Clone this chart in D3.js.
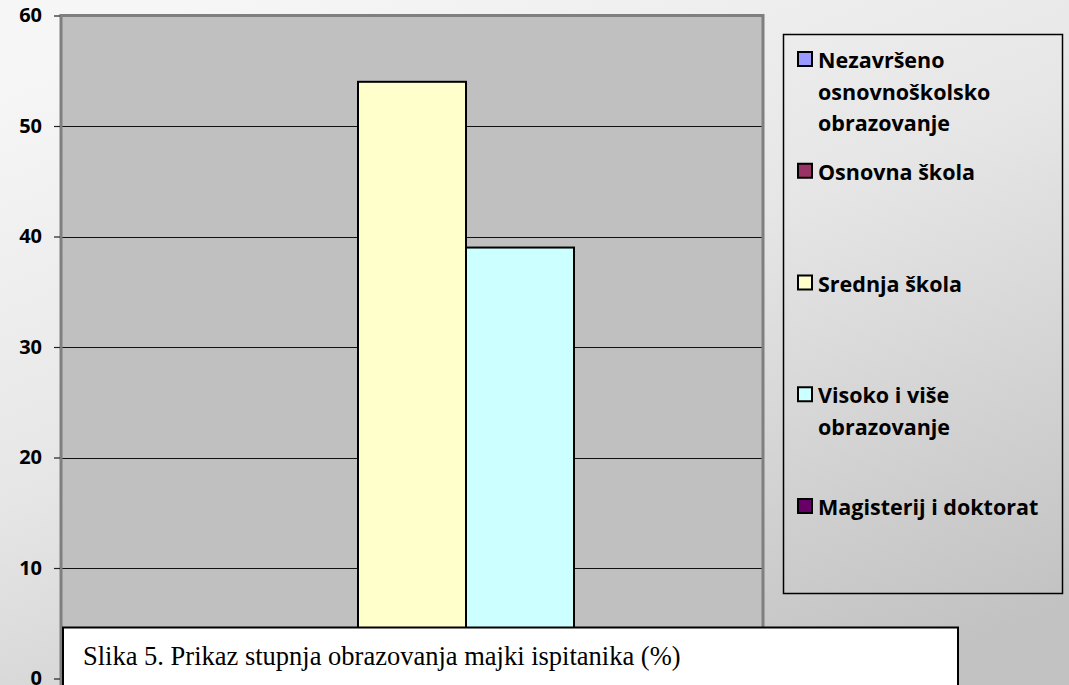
<!DOCTYPE html>
<html>
<head>
<meta charset="utf-8">
<script src="https://cdn.jsdelivr.net/npm/d3@7"></script>
<style>
  body { margin: 0; background: #ddd; }
  svg { display: block; }
  .tick text { font-family: "Open Sans", sans-serif; font-weight: bold; font-size: 20px; fill: #000; }
  .legendText { font-family: "Open Sans", sans-serif; font-weight: bold; font-size: 21.5px; fill: #000; }
  .caption { font-family: "Liberation Serif", "Times New Roman", serif; font-size: 26.5px; fill: #000; }
</style>
</head>
<body>
<div id="chart"></div>
<script>
// data
var categories = ["Majke"];
var seriesNames = [
    ["Nezavršeno", "osnovnoškolsko", "obrazovanje"],
    ["Osnovna škola"],
    ["Srednja škola"],
    ["Visoko i više", "obrazovanje"],
    ["Magisterij i doktorat"]
];
var seriesValues = [0, 0, 54, 39, 0];
var seriesColors = ["#9999ff", "#993366", "#ffffcc", "#ccffff", "#660066"];
var yTicks = [0, 10, 20, 30, 40, 50, 60];
var captionText = "Slika 5. Prikaz stupnja obrazovanja majki ispitanika (%)";

var svgWidth = 1069;
var svgHeight = 685;

var plot = { left: 61, right: 763, top: 15.5, bottom: 678.5 };

var svg = d3.select("#chart")
    .append("svg")
    .attr("width", svgWidth)
    .attr("height", svgHeight);

// background gradient
var defs = svg.append("defs");
var grad = defs.append("linearGradient")
    .attr("id", "bg")
    .attr("x1", "0.2").attr("y1", "0")
    .attr("x2", "0.8").attr("y2", "1");
grad.append("stop").attr("offset", "0").attr("stop-color", "#f6f6f6");
grad.append("stop").attr("offset", "0.45").attr("stop-color", "#e6e6e6");
grad.append("stop").attr("offset", "1").attr("stop-color", "#c2c2c2");

svg.append("rect")
    .attr("width", svgWidth)
    .attr("height", svgHeight)
    .attr("fill", "url(#bg)");

// scales
var yScale = d3.scaleLinear()
    .domain([0, 60])
    .range([plot.bottom, plot.top]);

var x0 = d3.scaleBand()
    .domain(categories)
    .range([plot.left, plot.right])
    .paddingInner(0)
    .paddingOuter(0.15);

var x1 = d3.scaleBand()
    .domain(d3.range(seriesValues.length))
    .range([0, x0.bandwidth()]);

// plot area
svg.append("rect")
    .attr("x", plot.left)
    .attr("y", plot.top)
    .attr("width", plot.right - plot.left)
    .attr("height", plot.bottom - plot.top + 20)
    .attr("fill", "#c0c0c0");

// gridlines
svg.append("g")
    .selectAll("line")
    .data(yTicks.filter(d => d > 0 && d < 60))
    .enter()
    .append("line")
    .attr("x1", plot.left)
    .attr("x2", plot.right)
    .attr("y1", d => Math.round(yScale(d)) + 0.5)
    .attr("y2", d => Math.round(yScale(d)) + 0.5)
    .attr("stroke", "#111")
    .attr("stroke-width", 1);

// bars
var barGroup = svg.append("g")
    .attr("transform", `translate(${x0(categories[0])}, 0)`);

barGroup.selectAll("rect")
    .data(seriesValues)
    .enter()
    .append("rect")
    .attr("x", (d, i) => x1(i))
    .attr("y", d => yScale(d))
    .attr("width", x1.bandwidth())
    .attr("height", d => yScale(0) - yScale(d))
    .attr("fill", (d, i) => seriesColors[i])
    .attr("stroke", "#000")
    .attr("stroke-width", 2);

// plot border (left, top, right)
svg.append("path")
    .attr("d", `M${plot.left},${plot.bottom + 10}V${plot.top}H${plot.right}V${plot.bottom + 10}`)
    .attr("fill", "none")
    .attr("stroke", "#7f7f7f")
    .attr("stroke-width", 3);

// y axis
var leftAxis = d3.axisLeft(yScale)
    .tickValues(yTicks)
    .tickSize(6)
    .tickPadding(12);

var yAxis = svg.append("g")
    .attr("transform", `translate(${plot.left - 1}, 0)`)
    .call(leftAxis);
yAxis.select(".domain").remove();
yAxis.selectAll(".tick line").attr("stroke", "#222").attr("stroke-width", 1.2);

// legend
var legend = svg.append("g");
legend.append("rect")
    .attr("x", 783.5)
    .attr("y", 34.5)
    .attr("width", 279)
    .attr("height", 559)
    .attr("fill", "none")
    .attr("stroke", "#000")
    .attr("stroke-width", 1.5);

var entryStep = 111.75;
var lineStep = 31.5;
var legendItems = legend.selectAll(".legendItem")
    .data(seriesNames)
    .enter()
    .append("g")
    .attr("class", "legendItem")
    .attr("transform", (d, i) => `translate(797, ${68 + i * entryStep})`);

legendItems.append("rect")
    .attr("x", 1)
    .attr("y", -16)
    .attr("width", 14)
    .attr("height", 14)
    .attr("fill", (d, i) => seriesColors[i])
    .attr("stroke", "#000")
    .attr("stroke-width", 2);

legendItems.append("text")
    .attr("class", "legendText")
    .attr("x", 21)
    .attr("y", 0)
    .selectAll("tspan")
    .data(d => d)
    .enter()
    .append("tspan")
    .attr("x", 21)
    .attr("dy", (d, i) => i === 0 ? 0 : lineStep)
    .text(d => d);

// caption box
svg.append("rect")
    .attr("x", 63)
    .attr("y", 627.5)
    .attr("width", 895)
    .attr("height", 80)
    .attr("fill", "#fff")
    .attr("stroke", "#000")
    .attr("stroke-width", 2);

svg.append("text")
    .attr("class", "caption")
    .attr("x", 83)
    .attr("y", 665)
    .text(captionText);
</script>
</body>
</html>
